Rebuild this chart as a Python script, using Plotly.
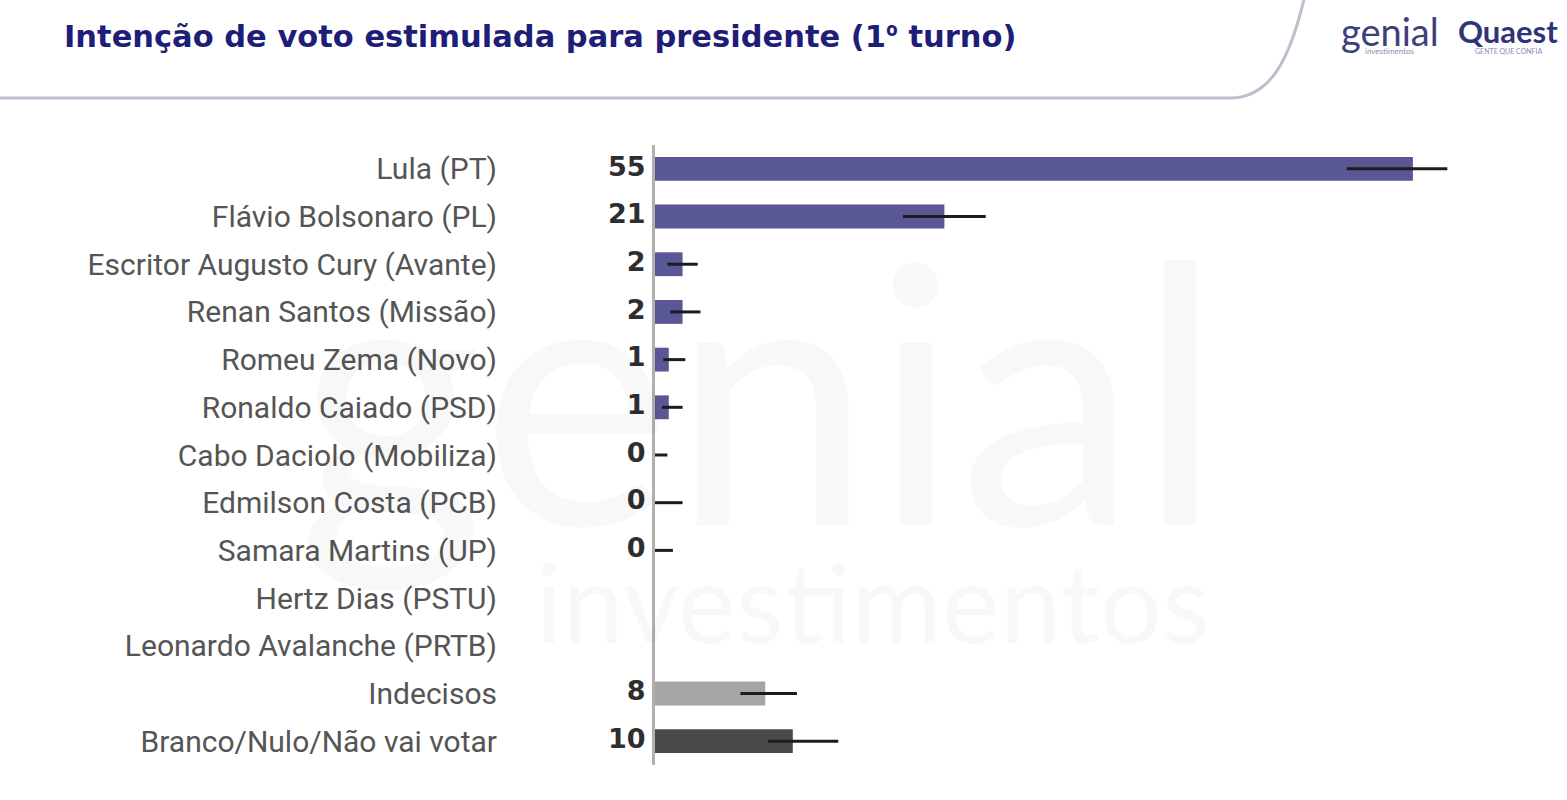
import plotly.graph_objects as go

categories = ["Lula (PT)", "Flávio Bolsonaro (PL)", "Escritor Augusto Cury (Avante)",
              "Renan Santos (Missão)", "Romeu Zema (Novo)", "Ronaldo Caiado (PSD)",
              "Cabo Daciolo (Mobiliza)", "Edmilson Costa (PCB)", "Samara Martins (UP)",
              "Hertz Dias (PSTU)", "Leonardo Avalanche (PRTB)", "Indecisos",
              "Branco/Nulo/Não vai votar"]
values = [55, 21, 2, 2, 1, 1, 0, 0, 0, None, None, 8, 10]
err_plus = [2.5, 3.0, 1.1, 1.3, 1.2, 1.0, 0.9, 2.0, 1.3, None, None, 2.3, 3.3]
err_minus = [4.8, 3.0, 1.1, 0.9, 0.4, 0.5, 0.0, 0.0, 0.0, None, None, 1.8, 1.8]
value_labels = ["" if v is None else f"{v}\u00a0" for v in values]

PURPLE = "#5a5796"
bar_colors = [PURPLE] * 11 + ["#a5a5a5", "#4a4a4a"]

W, H = 1567, 800
ML, MR, MT, MB = 655, 16, 145, 35
PW, PH = W - ML - MR, H - MT - MB


def px(x):
    return (x - ML) / PW


def py(y):
    return 1 - (y - MT) / PH


fig = go.Figure()
fig.add_trace(go.Bar(
    y=categories, x=values, orientation="h",
    marker=dict(color=bar_colors, line=dict(width=0)),
    error_x=dict(type="data", symmetric=False, array=err_plus, arrayminus=err_minus,
                 color="#1c1c1c", thickness=3, width=0),
    hoverinfo="x+y", showlegend=False,
))
fig.add_trace(go.Scatter(
    y=categories, x=[0] * len(categories), mode="text", text=value_labels,
    textposition="middle left",
    textfont=dict(family="DejaVu Sans", size=27, color="#2e2e2e", weight="bold"),
    cliponaxis=False, showlegend=False, hoverinfo="skip",
))

# header curve
path = (f"M {px(-5)},{py(98)} L {px(1230)},{py(98)} "
        f"C {px(1270)},{py(98)} {px(1290)},{py(60)} {px(1305)},{py(-5)}")
fig.add_shape(type="path", xref="paper", yref="paper", path=path,
              line=dict(color="#b9c1cc", width=3), layer="above")


def ann(text, x, y, xanchor, size, color, family="Lato"):
    return dict(text=text, x=px(x), y=py(y), xref="paper", yref="paper",
                xanchor=xanchor, yanchor="middle", showarrow=False,
                font=dict(family=family, size=size, color=color))


title = ("<b>Intenção de voto estimulada para presidente "
         "(1<span style='font-family:Open Sans'>º</span> turno)</b>")

annotations = [
    ann("genial", 760, 386, "center", 360, "rgba(0,0,0,0.028)"),
    ann("investimentos", 873, 600, "center", 110, "rgba(0,0,0,0.028)"),
    ann(title, 62, 35, "left", 30.5, "#1e1e78", "DejaVu Sans"),
    ann("genial", 1390, 31, "center", 38, "#3d4078"),
    ann("investimentos", 1390, 51, "center", 8, "#8a8db0"),
    ann("<b>Quaest</b>", 1508, 31, "center", 31, "#2f347a"),
    ann("GENTE QUE CONFIA", 1508, 51, "center", 7, "#8a8db0"),
]

fig.update_layout(
    width=W, height=H,
    margin=dict(l=ML, r=MR, t=MT, b=MB),
    paper_bgcolor="white", plot_bgcolor="white",
    bargap=0.5,
    annotations=annotations,
    xaxis=dict(range=[0, PW / 13.78], visible=False, showgrid=False, zeroline=False),
    yaxis=dict(categoryorder="array", categoryarray=categories,
               range=[len(categories) - 0.5, -0.5],
               showgrid=False, zeroline=False, showline=True, linecolor="#b0b0b0",
               linewidth=3, ticks="", ticklabelstandoff=149,
               tickfont=dict(family="Roboto", size=30, color="#555555")),
)

fig.write_html("out.html")
